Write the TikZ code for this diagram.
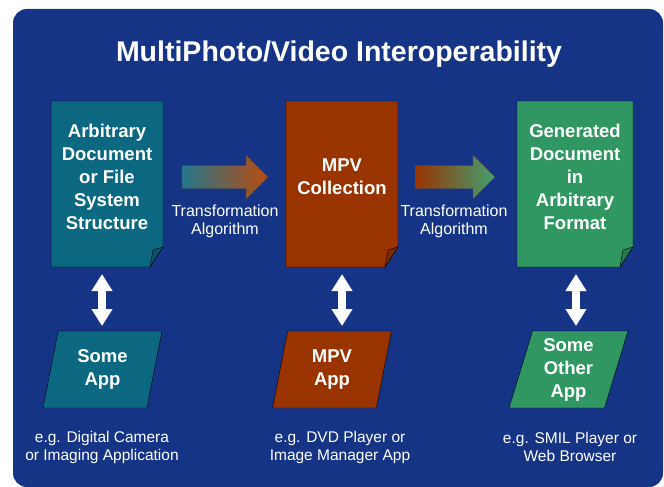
\documentclass[tikz,border=0pt]{standalone}
\usepackage{fontspec}
\setmainfont{Liberation Sans}
\usetikzlibrary{arrows.meta,shapes.geometric}
\pgfdeclarelayer{background}
\pgfsetlayers{background,main}
\definecolor{bgblue}{RGB}{22,52,134}
\definecolor{tealdoc}{RGB}{12,104,128}
\definecolor{browndoc}{RGB}{153,51,0}
\definecolor{greendoc}{RGB}{48,150,98}
\tikzset{
  doctext/.style={text=white, font=\fontsize{18.5}{23}\selectfont\bfseries, align=center, inner sep=0pt},
  app/.style={trapezium, trapezium left angle=70, trapezium right angle=110, trapezium stretches body,
    minimum height=77pt, minimum width=119pt, draw=black, fill=#1, text=white,
    font=\fontsize{18.5}{23}\selectfont\bfseries, align=center, inner sep=1pt},
  note/.style={text=white, font=\fontsize{15.5}{18}\selectfont, align=center, inner sep=0pt},
  updown/.style={white, line width=8pt, {Triangle[width=20pt,length=17pt]}-{Triangle[width=20pt,length=17pt]}},
}
% page with a curled corner, drawn behind the text node #1
\newcommand{\docpage}[3]{%
  \begin{pgfonlayer}{background}
  \filldraw[fill=#2, draw=black] ([shift={(-#3,-76)}]#1.center) -- ([shift={(#3,-76)}]#1.center)
    -- ([shift={(#3,70)}]#1.center) -- ([shift={(#3-13,90)}]#1.center) -- ([shift={(-#3,90)}]#1.center) -- cycle;
  \filldraw[fill=#2!80!black, draw=black] ([shift={(#3,70)}]#1.center) -- ([shift={(#3-10,73)}]#1.center)
    -- ([shift={(#3-13,90)}]#1.center) -- cycle;
  \end{pgfonlayer}}
% fat shaded arrow from #1 to #2
\newcommand{\fatarrow}[3]{%
  \shadedraw[draw=black!70, #3] ([yshift=11.5pt]#1) -- ([xshift=-22pt,yshift=11.5pt]#2)
    -- ([xshift=-22pt,yshift=22pt]#2) -- (#2) -- ([xshift=-22pt,yshift=-22pt]#2)
    -- ([xshift=-22pt,yshift=-11.5pt]#2) -- ([yshift=-11.5pt]#1) -- cycle;}

\begin{document}
\begin{tikzpicture}[x=1pt, y=-1pt]
\useasboundingbox (0,0) rectangle (664,487);
\begin{pgfonlayer}{background}
\fill[bgblue, rounded corners=14pt] (13,9) rectangle (663,487);
\end{pgfonlayer}
%
\node[text=white, font=\fontsize{28.5}{34}\selectfont\bfseries, anchor=base] (title) at (339,62) {MultiPhoto/Video Interoperability};
%
\node[doctext] (doc1) at (107,177) {Arbitrary\\Document\\or File\\System\\Structure};
\node[doctext] (doc2) at (342,177) {MPV\\Collection};
\node[doctext] (doc3) at (575,177) {Generated\\Document\\in\\Arbitrary\\Format};
\docpage{doc1}{tealdoc}{56}
\docpage{doc2}{browndoc}{56}
\docpage{doc3}{greendoc}{58}
%
\coordinate (t1s) at (182,177);
\coordinate (t1e) at (268,177);
\coordinate (t2s) at (415,177);
\coordinate (t2e) at (495,177);
\fatarrow{t1s}{t1e}{left color=tealdoc!90!white, middle color={rgb,255:red,125;green,95;blue,75}, right color={rgb,255:red,185;green,75;blue,15}}
\fatarrow{t2s}{t2e}{left color=browndoc, middle color={rgb,255:red,135;green,120;blue,60}, right color=greendoc!90!white}
\node[note, font=\fontsize{16}{18}\selectfont] (alg1) at (225,221) {Transformation\\Algorithm};
\node[note, font=\fontsize{16}{18}\selectfont] (alg2) at (454,221) {Transformation\\Algorithm};
%
\node[app=tealdoc] (app1) at (102.5,369.5) {Some\\App};
\node[app=browndoc] (app2) at (332,369.5) {MPV\\App};
\node[app=greendoc] (app3) at (568.5,369.5) {Some\\Other\\App};
%
\draw[updown] ([xshift=-5pt,yshift=-97pt]doc1.center) -- ([xshift=-5pt,yshift=-149pt]doc1.center);
\draw[updown] ([yshift=-97pt]doc2.center) -- ([yshift=-149pt]doc2.center);
\draw[updown] ([xshift=1pt,yshift=-97pt]doc3.center) -- ([xshift=1pt,yshift=-149pt]doc3.center);
%
\node[note] (ex1) at (102,447) {e.g. Digital Camera\\or Imaging Application};
\node[note] (ex2) at (340,447) {e.g. DVD Player or\\Image Manager App};
\node[note] (ex3) at (570,447) {e.g. SMIL Player or\\Web Browser};
\end{tikzpicture}
\end{document}
